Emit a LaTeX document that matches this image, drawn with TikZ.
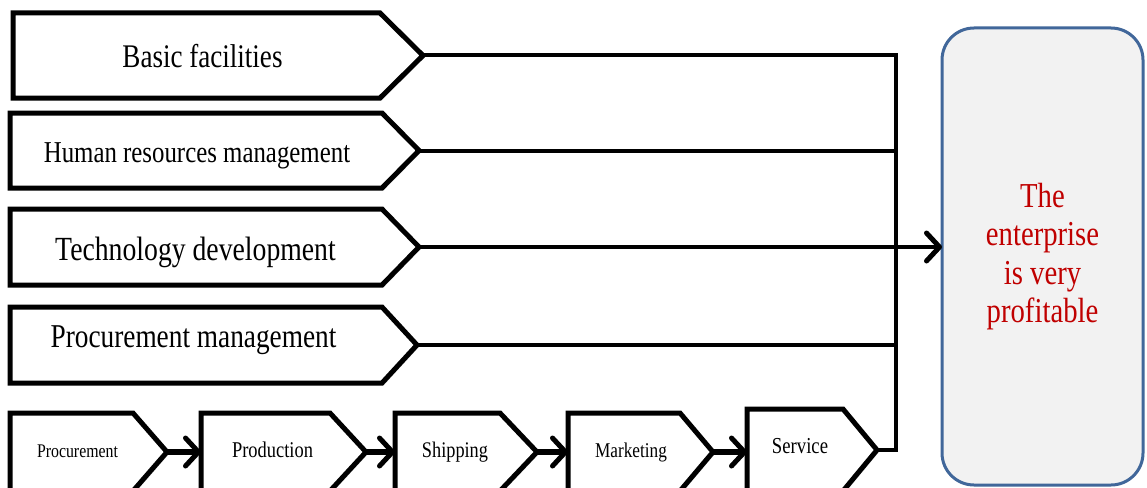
\documentclass[tikz,border=0pt]{standalone}
\usepackage{fontspec}
\setmainfont[FakeStretch=0.82]{Liberation Serif}
\usetikzlibrary{arrows.meta,shadows}
\definecolor{boxblue}{HTML}{41679A}
\definecolor{boxfill}{HTML}{F2F2F2}
\definecolor{txtred}{HTML}{C00000}
\newcommand\fsz[1]{\fontsize{#1}{#1}\selectfont}
% name, left, top, rect end, tip, bottom
\newcommand\pentagon[6]{%
  \path[pentshape] (#2,#3) -- (#4,#3) -- (#5,{(#3+#6)/2}) -- (#4,#6) -- (#2,#6) -- cycle;
  \coordinate (#1-tip) at (#5,{(#3+#6)/2});
  \coordinate (#1-w) at (#2,{(#3+#6)/2});}
\begin{document}
\begin{tikzpicture}[x=1pt,y=-1pt,
  pentshape/.style={draw=black, line width=5pt, fill=white, line join=miter,
    drop shadow={shadow xshift=2pt, shadow yshift=-2pt, opacity=0.25}},
  conn/.style={line width=4pt, line join=miter},
  barb/.tip={Straight Barb[length=13pt, width=28pt, line width=5pt, round]},
  flow/.style={line width=6pt, -barb},
  lbl/.style={inner sep=0pt, anchor=base}]
\useasboundingbox (0,0) rectangle (1147,487);
\clip (0,0) rectangle (1147,487);
% upper support activities
\pentagon{bf}{13}{13}{380}{423}{98}
\pentagon{hr}{10}{113}{382}{419}{188}
\pentagon{td}{10}{209}{382}{419}{285}
\pentagon{pm}{10}{307}{382}{417}{383}
% primary chain
\pentagon{pc}{10}{413}{133}{167}{491}
\pentagon{pd}{201}{413}{330}{366}{491}
\pentagon{sh}{395}{413}{500}{537}{491}
\pentagon{mk}{568}{413}{680}{713}{491}
\pentagon{sv}{747}{409}{843}{877}{491}
% labels
\node[lbl, font=\fsz{33}] (bf-l) at (202.5,67) {Basic facilities};
\node[lbl, font=\fsz{30.3}] (hr-l) at (197,162) {Human resources management};
\node[lbl, font=\fsz{33.8}] (td-l) at (195.5,260) {Technology development};
\node[lbl, font=\fsz{33.3}] (pm-l) at (193.5,347) {Procurement management};
\node[lbl, font=\fsz{19.3}] (pc-l) at (77.5,457) {Procurement};
\node[lbl, font=\fsz{22.5}] (pd-l) at (272.5,457) {Production};
\node[lbl, font=\fsz{22.3}] (sh-l) at (455,457) {Shipping};
\node[lbl, font=\fsz{21}] (mk-l) at (631,457) {Marketing};
\node[lbl, font=\fsz{22.8}] (sv-l) at (800,453) {Service};
% goal box
\node[draw=boxblue, fill=boxfill, line width=3pt, rounded corners=32pt,
  minimum width=201pt, minimum height=457pt, inner sep=0pt, outer sep=0pt,
  align=center, text=txtred, font=\fontsize{35}{38.5}\selectfont]
  (goal) at (1042.5,256.5) {The\\enterprise\\is very\\profitable};
% junction
\coordinate (jbot) at (896,450);
\draw[conn] (bf-tip) -| (jbot) -- (sv-tip);
\draw[conn] (hr-tip) -- (hr-tip -| jbot);
\draw[conn] (pm-tip) -- (pm-tip -| jbot);
\draw[conn, -barb] (td-tip) -- (td-tip -| goal.west);
% chain arrows
\draw[flow] (pc-tip) -- (pd-w);
\draw[flow] (pd-tip) -- (sh-w);
\draw[flow] (sh-tip) -- (mk-w);
\draw[flow] (mk-tip) -- (mk-tip -| sv-w);
\end{tikzpicture}
\end{document}
